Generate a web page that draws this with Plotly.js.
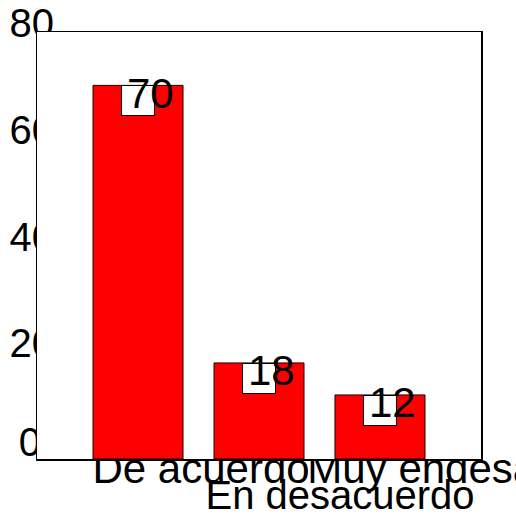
<!DOCTYPE html>
<html><head><meta charset="utf-8">
<script src="https://cdn.plot.ly/plotly-3.0.1.min.js"></script>
<style>html,body{margin:0;padding:0;background:#fff}#chart{width:516px;height:516px}</style>
</head><body><div id="chart"></div>
<script>
const categories = ['De acuerdo', 'En desacuerdo', 'Muy endesacuerdo'];
const values = [70, 18, 12];
const tickLabels = ['De acuerdo', 'En desacuerdo', 'Muy endesacuerdo'];
const yTickValues = [0, 20, 40, 60, 80];
const yTickLabels = ['0', '20', '40', '60', '80'];
const valueLabels = values.map(String);

const FONT = 'Liberation Sans, Arial, sans-serif';
const xr = [-0.835, 2.835];
const yr = [0, 80];

function ghost(xa, ya) {
  return {type: 'bar', x: categories, y: values, xaxis: xa, yaxis: ya,
    marker: {color: 'rgba(0,0,0,0)', line: {width: 0}}, hoverinfo: 'skip', showlegend: false};
}

const traces = [ghost('x', 'y'), ghost('x3', 'y'), ghost('x4', 'y'), ghost('x', 'y3'), {
  type: 'bar', x: categories, y: values, xaxis: 'x2', yaxis: 'y2',
  marker: {color: '#ff0000', line: {color: '#1a0000', width: 1}},
  hoverinfo: 'skip', showlegend: false
}];

function labelAxis(i, size, shift, standoff, overlay) {
  const ax = {type: 'category', categoryorder: 'array', categoryarray: categories,
    range: xr, domain: [0, 1], anchor: 'y',
    tickmode: 'array', tickvals: [categories[i]], ticktext: [tickLabels[i]],
    ticks: '', showgrid: false, zeroline: false, showline: false,
    tickfont: {family: FONT, size: size, color: '#000'},
    ticklabelshift: shift, ticklabelstandoff: standoff, fixedrange: true};
  if (overlay) ax.overlaying = 'x';
  return ax;
}

function yLabelAxis(from, to, shift, standoff, overlay) {
  const ax = {range: yr, domain: [0, 1], anchor: 'x', tickmode: 'array',
    tickvals: yTickValues.slice(from, to), ticktext: yTickLabels.slice(from, to),
    ticks: '', showgrid: false, zeroline: false, showline: false,
    tickfont: {family: FONT, size: 40, color: '#000'}, ticklabelstandoff: standoff, ticklabelshift: shift, fixedrange: true};
  if (overlay) ax.overlaying = 'y';
  return ax;
}

const annotations = [];
categories.forEach((c, i) => {
  annotations.push({xref: 'x2', yref: 'y2', x: c, y: values[i], text: ' ',
    width: 32, height: 29, borderpad: 0, bgcolor: '#ffffff', bordercolor: '#000000', borderwidth: 1,
    xanchor: 'center', yanchor: 'top', showarrow: false, font: {size: 10}});
  annotations.push({xref: 'x2', yref: 'y2', x: c, y: values[i], text: valueLabels[i],
    xanchor: 'left', yanchor: 'middle', xshift: -13, yshift: -8, showarrow: false,
    font: {family: FONT, size: 42, color: '#000'}});
});

const layout = {
  width: 516, height: 516,
  margin: {l: 37, r: 35, t: 32, b: 57, pad: 0},
  paper_bgcolor: '#ffffff', plot_bgcolor: '#ffffff',
  showlegend: false, bargap: 0.256,
  font: {family: FONT, color: '#000'},
  xaxis: labelAxis(0, 42, 63, -19, false),
  xaxis3: labelAxis(2, 42, 106, -19, true),
  xaxis4: labelAxis(1, 40, 81, 9, true),
  yaxis: yLabelAxis(1, 5, -9, -18, false),
  yaxis3: yLabelAxis(0, 1, -17, -5, true),
  xaxis2: {type: 'category', categoryorder: 'array', categoryarray: categories, range: xr, domain: [0, 1], anchor: 'y2',
    showticklabels: false, ticks: '', showgrid: false, zeroline: false,
    showline: true, mirror: true, linecolor: '#000', linewidth: 1.5, fixedrange: true},
  yaxis2: {range: yr, domain: [0, 1], anchor: 'x2', showticklabels: false, ticks: '', showgrid: false, zeroline: false,
    showline: true, mirror: true, linecolor: '#000', linewidth: 1.5, fixedrange: true},
  annotations: annotations
};

Plotly.newPlot('chart', traces, layout, {staticPlot: true, displayModeBar: false});
</script>
</body></html>
